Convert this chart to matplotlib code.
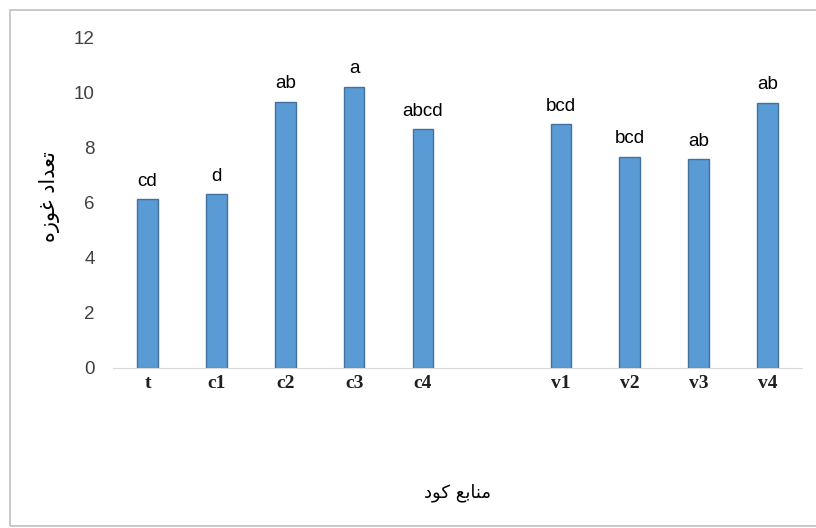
import matplotlib
matplotlib.use('Agg')
import matplotlib.pyplot as plt
from matplotlib.patches import Rectangle

# داده‌ها
categories = ['t', 'c1', 'c2', 'c3', 'c4', 'v1', 'v2', 'v3', 'v4']
values = [6.11, 6.30, 9.64, 10.19, 8.65, 8.83, 7.66, 7.56, 9.61]
letters = ['cd', 'd', 'ab', 'a', 'abcd', 'bcd', 'bcd', 'ab', 'ab']
yticks = [0, 2, 4, 6, 8, 10, 12]

# برچسب‌های فارسی (شکل‌دهی دستی، ترتیب نمایشی)
ylabel = '\uFEE9\uFEAF\uFEEE\uFECF \uFEA9\uFE8D\uFEAA\uFECC\uFE97'   # تعداد غوزه
xlabel = '\uFEA9\uFEEE\uFB90 \uFECA\uFE91\uFE8E\uFEE8\uFEE3'          # منابع کود

# جای خالی بین گروه c و v
pos = [i if i < 5 else i + 1 for i in range(len(categories))]

W, H = 816, 528
fig = plt.figure(figsize=(W / 100, H / 100), dpi=100)
ax = fig.add_axes([113 / W, (H - 368) / H, (802 - 113) / W, (368 - 37) / H])

ax.bar(pos, values, width=0.3, color='#5B9BD5', edgecolor='#41719C', linewidth=1)

for x, v, s in zip(pos, values, letters):
    ax.annotate(s, (x, v), xytext=(0, 7), textcoords='offset points',
                ha='center', va='bottom', fontsize=13.5, family='Liberation Sans')

ax.set_xlim(-0.5, 9.5)
ax.set_ylim(0, 12)
ax.set_yticks(yticks)
ax.set_yticklabels([str(t) for t in yticks], fontsize=13.5, family='Liberation Sans', color='#404040')
ax.set_xticks(pos)
ax.set_xticklabels(categories, fontsize=14, family='Liberation Serif', fontweight='bold', color='#202020')
ax.tick_params(axis='both', length=0)
ax.tick_params(axis='y', pad=13)
ax.tick_params(axis='x', pad=5)

for sp in ['top', 'right', 'left']:
    ax.spines[sp].set_visible(False)
ax.spines['bottom'].set_color('#D9D9D9')

fig.text(50 / W, 1 - 197 / H, ylabel, rotation=90, ha='center', va='center',
         fontsize=15, family='DejaVu Sans')
fig.text(458 / W, 1 - 493 / H, xlabel, ha='center', va='center',
         fontsize=13, family='DejaVu Sans')

# کادر دور نمودار
fig.patches.append(Rectangle((10 / W, 2 / H), (W + 10) / W, (H - 12) / H,
                             transform=fig.transFigure, fill=False,
                             edgecolor='#BFBFBF', linewidth=1.2))

plt.savefig('out.png', dpi=100)
